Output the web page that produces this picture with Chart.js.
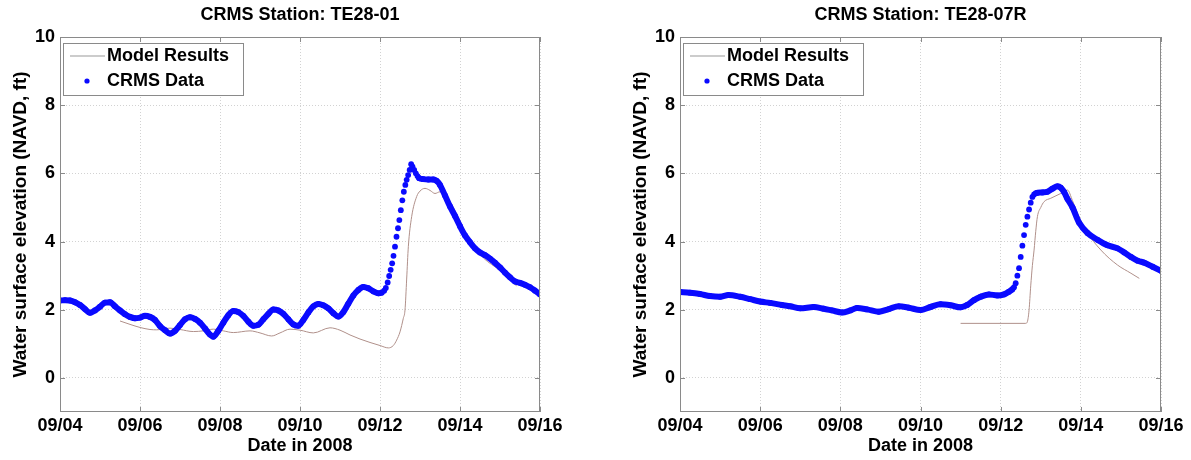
<!DOCTYPE html>
<html>
<head>
<meta charset="utf-8">
<script src="https://cdn.jsdelivr.net/npm/chart.js@4/dist/chart.umd.min.js"></script>
<style>
  html, body { margin: 0; padding: 0; background: #fff; }
  #wrap { position: relative; width: 1191px; height: 460px; }
  #left { position: absolute; left: 0; top: 0; }
  #right { position: absolute; left: 620px; top: 0; }
</style>
</head>
<body>
<div id="wrap">
  <canvas id="left" width="575" height="460"></canvas>
  <canvas id="right" width="571" height="460"></canvas>
</div>
<script>
// x is hours since 09/04 00:00
const xTickHours = [0, 48, 96, 144, 192, 240, 288];
const xTickLabels = ['09/04', '09/06', '09/08', '09/10', '09/12', '09/14', '09/16'];
const yTicks = [0, 2, 4, 6, 8, 10];

// TE28-01
const crms1Hours = [0, 3, 6, 9, 12, 15, 18, 21, 24, 27, 30, 33, 36, 39, 42, 45, 48, 51, 54, 57,
  60, 63, 66, 69, 72, 75, 78, 81, 84, 87, 90, 92, 95, 98, 101, 104, 107, 110, 113, 116,
  119, 122, 125, 128, 131, 134, 137, 140, 143, 146, 149, 152, 155, 158, 161, 164, 167, 170, 173, 176,
  179, 182, 185, 188, 191, 193, 194.5, 195.5, 196.6,
  197.5, 198.4, 199.3, 200.1, 201.0, 201.9, 202.8, 203.6, 204.5, 205.4, 206.3, 207.2, 208.0, 208.9, 209.8, 210.7,
  211.5, 212.5, 213.5, 214.5, 215.5, 218, 221, 224, 226, 228, 231, 234, 237, 240, 243, 246, 249, 252,
  255, 258, 261, 264, 267, 270, 273, 276, 279, 282, 285, 288];
const crms1Level = [2.27, 2.28, 2.27, 2.22, 2.14, 2.02, 1.91, 1.98, 2.09, 2.21, 2.22, 2.10, 1.98, 1.87, 1.79, 1.75, 1.77, 1.82, 1.79, 1.70,
  1.52, 1.40, 1.30, 1.38, 1.55, 1.72, 1.78, 1.73, 1.62, 1.45, 1.27, 1.21, 1.38, 1.62, 1.84, 1.96, 1.93, 1.82, 1.65, 1.53,
  1.56, 1.72, 1.88, 2.01, 1.98, 1.88, 1.72, 1.57, 1.53, 1.70, 1.92, 2.10, 2.17, 2.13, 2.04, 1.90, 1.80, 1.93, 2.18, 2.42,
  2.58, 2.67, 2.63, 2.54, 2.48, 2.50, 2.56, 2.64, 2.80,
  2.99, 3.17, 3.36, 3.58, 3.85, 4.14, 4.39, 4.63, 4.92, 5.21, 5.46, 5.66, 5.81, 5.95, 6.10, 6.27,
  6.20, 6.10, 6.00, 5.92, 5.86, 5.83, 5.82, 5.82, 5.78, 5.66, 5.35, 5.03, 4.75, 4.45, 4.18, 3.98, 3.80, 3.68,
  3.60, 3.50, 3.38, 3.24, 3.09, 2.95, 2.83, 2.79, 2.73, 2.66, 2.56, 2.45];
const model1Hours = [36, 42, 48, 54, 58, 66, 72, 80, 86, 92, 98, 104, 114, 120, 127, 132, 138, 144, 152, 162,
  168, 174, 180, 186, 192, 197, 200, 202, 204, 206, 207, 208, 209, 211, 214, 216, 219, 222, 225, 228,
  231, 234, 240, 246, 254, 264, 272, 274];
const model1Level = [1.67, 1.57, 1.48, 1.42, 1.41, 1.46, 1.42, 1.36, 1.38, 1.43, 1.38, 1.33, 1.38, 1.32, 1.23, 1.32, 1.43, 1.40, 1.32, 1.47,
  1.40, 1.26, 1.14, 1.04, 0.95, 0.88, 0.95, 1.11, 1.35, 1.75, 1.99, 2.90, 3.85, 4.73, 5.32, 5.48, 5.56, 5.50, 5.41, 5.46,
  5.35, 5.17, 4.60, 4.00, 3.52, 3.15, 2.78, 2.70];

// TE28-07R
const crms2Hours = [0, 6, 12, 18, 24, 29, 36, 42, 48, 54, 61, 66, 72, 80, 86, 91, 97, 102, 106, 112,
  119, 125, 131, 137, 144, 150, 156, 162, 168, 172, 176, 180, 185, 190, 194, 197, 199,
  200, 201, 202, 203, 204, 205, 206, 207, 208, 209, 210, 211, 212, 213, 214,
  217, 220, 223, 226, 228, 230, 232, 235, 239, 244, 250, 256, 262, 266, 270, 274, 278, 283, 288];
const crms2Level = [2.52, 2.50, 2.46, 2.40, 2.38, 2.43, 2.38, 2.31, 2.24, 2.20, 2.14, 2.10, 2.04, 2.08, 2.03, 1.98, 1.92, 1.98, 2.05, 2.01,
  1.94, 2.02, 2.10, 2.06, 1.99, 2.08, 2.16, 2.13, 2.07, 2.14, 2.28, 2.38, 2.45, 2.42, 2.45, 2.53, 2.60,
  2.66, 2.78, 3.00, 3.22, 3.55, 3.88, 4.19, 4.49, 4.73, 4.94, 5.14, 5.31, 5.38, 5.42, 5.43,
  5.44, 5.46, 5.55, 5.62, 5.58, 5.45, 5.25, 5.00, 4.55, 4.25, 4.05, 3.89, 3.80, 3.68, 3.55, 3.44, 3.38, 3.26, 3.14];
const model2Hours = [168, 207, 208, 209, 210, 211, 212, 213, 214, 216, 218, 222, 228, 232, 235, 238, 243, 252, 262, 270, 275];
const model2Level = [1.60, 1.60, 1.65, 1.99, 2.70, 3.30, 3.75, 4.30, 4.73, 5.00, 5.17, 5.27, 5.41, 5.51, 5.20, 4.83, 4.33, 3.75, 3.31, 3.07, 2.92];

const BLUE = '#0a0aff';
const MODEL = '#b0908a';
const FONT = "'Liberation Sans', Arial, sans-serif";

Chart.defaults.font.family = FONT;
Chart.defaults.color = '#000';

const pairs = (xs, ys) => xs.map((x, i) => ({ x: x, y: ys[i] }));

// frame, inward ticks, title and legend like the matlab figure
const figurePlugin = {
  id: 'figure',
  afterDraw(chart, args, opts) {
    const { ctx, chartArea: a, scales } = chart;
    ctx.save();
    ctx.strokeStyle = '#8a8a8a';
    ctx.lineWidth = 1;
    ctx.strokeRect(a.left + 0.5, a.top + 0.5, a.right - a.left - 1, a.bottom - a.top - 1);
    ctx.beginPath();
    xTickHours.forEach(v => {
      const px = Math.round(scales.x.getPixelForValue(v)) + 0.5;
      ctx.moveTo(px, a.bottom); ctx.lineTo(px, a.bottom - 5);
      ctx.moveTo(px, a.top); ctx.lineTo(px, a.top + 5);
    });
    yTicks.forEach(v => {
      const py = Math.round(scales.y.getPixelForValue(v)) + 0.5;
      ctx.moveTo(a.left, py); ctx.lineTo(a.left + 5, py);
      ctx.moveTo(a.right, py); ctx.lineTo(a.right - 5, py);
    });
    ctx.stroke();

    // title
    ctx.fillStyle = '#000';
    ctx.font = 'bold 18px ' + FONT;
    ctx.textAlign = 'center';
    ctx.textBaseline = 'middle';
    ctx.fillText(opts.title, (a.left + a.right) / 2, 15);

    // legend
    const lx = a.left + 3, ly = a.top + 6;
    ctx.fillStyle = '#fff';
    ctx.fillRect(lx, ly, 180, 52);
    ctx.strokeStyle = '#8a8a8a';
    ctx.strokeRect(lx + 0.5, ly + 0.5, 180, 52);
    ctx.strokeStyle = '#999';
    ctx.lineWidth = 1;
    ctx.beginPath();
    ctx.moveTo(lx + 7, ly + 13); ctx.lineTo(lx + 42, ly + 13);
    ctx.stroke();
    ctx.fillStyle = BLUE;
    ctx.beginPath();
    ctx.arc(lx + 24, ly + 38, 2.6, 0, Math.PI * 2);
    ctx.fill();
    ctx.fillStyle = '#000';
    ctx.textAlign = 'left';
    ctx.fillText(chart.data.datasets[1].label, lx + 44, ly + 13);
    ctx.fillText(chart.data.datasets[0].label, lx + 44, ly + 38);
    ctx.restore();
  }
};

function makeChart(id, title, crmsHours, crmsLevel, modelHours, modelLevel, padRight) {
  return new Chart(document.getElementById(id), {
    type: 'line',
    data: {
      datasets: [{
        label: 'CRMS Data',
        data: pairs(crmsHours, crmsLevel),
        borderColor: BLUE,
        borderWidth: 6,
        borderCapStyle: 'round',
        borderJoinStyle: 'round',
        cubicInterpolationMode: 'monotone',
        pointRadius: 2.9,
        pointBorderWidth: 0,
        pointBackgroundColor: BLUE,
        segment: {
          // hourly dots on the surge stay apart, like the original
          borderColor: ctx => Math.abs(ctx.p1.x - ctx.p0.x) < 3 ? 'rgba(0,0,0,0)' : undefined
        }
      }, {
        label: 'Model Results',
        data: pairs(modelHours, modelLevel),
        borderColor: MODEL,
        borderWidth: 1,
        cubicInterpolationMode: 'monotone',
        pointRadius: 0
      }]
    },
    options: {
      responsive: false,
      animation: false,
      devicePixelRatio: 1,
      layout: { padding: { top: 37, right: padRight, left: 0, bottom: 0 } },
      plugins: {
        legend: { display: false },
        tooltip: { enabled: false },
        figure: { title: title }
      },
      scales: {
        x: {
          type: 'linear',
          min: 0,
          max: 288,
          afterBuildTicks: s => { s.ticks = xTickHours.map(v => ({ value: v })); },
          afterFit: s => { s.height = 48; },
          ticks: {
            callback: (v, i) => xTickLabels[i],
            color: '#000',
            font: { size: 18, weight: 'bold' },
            padding: 3,
            maxRotation: 0,
            autoSkip: false
          },
          grid: { color: '#d2d2d2', drawTicks: false },
          border: { display: false, dash: [1, 2] },
          title: {
            display: true,
            text: 'Date in 2008',
            color: '#000',
            font: { size: 18, weight: 'bold' },
            padding: { top: 0, bottom: 3 }
          }
        },
        y: {
          min: -1,
          max: 10,
          afterBuildTicks: s => { s.ticks = yTicks.map(v => ({ value: v })); },
          afterFit: s => { s.width = 60; },
          ticks: {
            callback: v => v,
            color: '#000',
            font: { size: 18, weight: 'bold' },
            padding: 5
          },
          grid: { color: '#d2d2d2', drawTicks: false },
          border: { display: false, dash: [1, 2] },
          title: {
            display: true,
            text: 'Water surface elevation (NAVD, ft)',
            color: '#000',
            font: { size: 19, weight: 'bold' },
            padding: { top: 9, bottom: 0 }
          }
        }
      }
    },
    plugins: [figurePlugin]
  });
}

makeChart('left', 'CRMS Station: TE28-01', crms1Hours, crms1Level, model1Hours, model1Level, 35);
makeChart('right', 'CRMS Station: TE28-07R', crms2Hours, crms2Level, model2Hours, model2Level, 30);
</script>
</body>
</html>
